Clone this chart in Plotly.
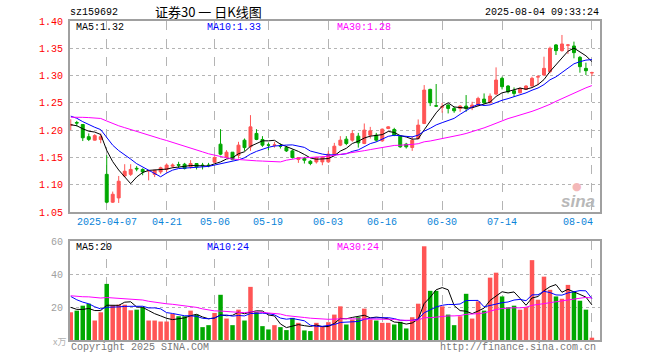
import pandas as pd
import plotly.graph_objects as go

# ---- data ----
holidays = ["2025-04-04", "2025-05-01", "2025-05-02", "2025-05-05", "2025-06-02"]
dates = [d.strftime("%Y-%m-%d") for d in pd.bdate_range("2025-03-27", "2025-08-04")
         if d.strftime("%Y-%m-%d") not in holidays]

opens = [1.209, 1.214, 1.2104, 1.188, 1.1816, 1.183, 1.119, 1.068, 1.0758, 1.116,
         1.119, 1.130, 1.128, 1.125, 1.119, 1.1235, 1.128, 1.134, 1.137, 1.1376,
         1.1327, 1.1388, 1.136, 1.136, 1.1412, 1.1743, 1.150, 1.1596, 1.154, 1.1816,
         1.1694, 1.194, 1.1829, 1.173, 1.172, 1.171, 1.1682, 1.162, 1.1461, 1.148,
         1.143, 1.1418, 1.1418, 1.1419, 1.156, 1.1725, 1.1835, 1.1816, 1.189, 1.1755,
         1.1908, 1.1908, 1.1804, 1.203, 1.2012, 1.189, 1.1743, 1.1682, 1.1847, 1.2122,
         1.2747, 1.2447, 1.2422, 1.2459, 1.2398, 1.2398, 1.2441, 1.2416, 1.2459, 1.2569,
         1.2502, 1.2661, 1.2949, 1.2808, 1.2722, 1.2685, 1.2747, 1.2808, 1.2973, 1.301,
         1.3071, 1.3561, 1.3457, 1.3555, 1.3542, 1.3334, 1.3132, 1.3049]
highs = [1.220, 1.217, 1.211, 1.194, 1.1927, 1.194, 1.154, 1.0874, 1.116, 1.1376,
         1.1376, 1.134, 1.130, 1.127, 1.1265, 1.133, 1.139, 1.139, 1.142, 1.140,
         1.145, 1.1388, 1.140, 1.140, 1.152, 1.2018, 1.1633, 1.1596, 1.1786, 1.1847,
         1.2275, 1.2018, 1.189, 1.1774, 1.1786, 1.1755, 1.1706, 1.1645, 1.150, 1.151,
         1.145, 1.151, 1.152, 1.162, 1.1767, 1.189, 1.189, 1.200, 1.195, 1.2122,
         1.206, 1.195, 1.203, 1.2073, 1.2043, 1.1908, 1.1767, 1.189, 1.2196, 1.2826,
         1.2759, 1.2845, 1.250, 1.2477, 1.2428, 1.2459, 1.2643, 1.252, 1.2612, 1.2673,
         1.2673, 1.315, 1.2979, 1.2826, 1.2783, 1.2783, 1.2826, 1.2979, 1.301, 1.3346,
         1.353, 1.3579, 1.3744, 1.3579, 1.3622, 1.3359, 1.3236, 1.3071]
lows = [1.200, 1.207, 1.180, 1.180, 1.181, 1.176, 1.066, 1.0666, 1.0666, 1.114,
        1.116, 1.1247, 1.1174, 1.108, 1.114, 1.120, 1.1235, 1.131, 1.131, 1.128,
        1.1296, 1.128, 1.128, 1.132, 1.140, 1.154, 1.1486, 1.1449, 1.148, 1.162,
        1.162, 1.1816, 1.1694, 1.1633, 1.168, 1.1663, 1.160, 1.148, 1.140, 1.1388,
        1.1357, 1.1388, 1.1357, 1.140, 1.154, 1.1706, 1.1725, 1.1786, 1.168, 1.1743,
        1.1847, 1.1786, 1.1786, 1.2018, 1.189, 1.1676, 1.1663, 1.162, 1.1829, 1.211,
        1.2441, 1.2428, 1.2318, 1.2306, 1.2318, 1.2337, 1.2337, 1.2367, 1.2441, 1.2477,
        1.249, 1.2643, 1.2747, 1.2673, 1.2612, 1.2673, 1.2734, 1.2796, 1.2826, 1.2991,
        1.304, 1.3377, 1.3438, 1.3395, 1.3316, 1.3053, 1.301, 1.2991]
closes = [1.2104, 1.213, 1.186, 1.183, 1.190, 1.188, 1.068, 1.0825, 1.1064, 1.1247,
          1.128, 1.129, 1.1235, 1.126, 1.1265, 1.131, 1.136, 1.136, 1.1357, 1.1296,
          1.1388, 1.1327, 1.135, 1.135, 1.150, 1.156, 1.1596, 1.146, 1.1725, 1.168,
          1.206, 1.183, 1.1725, 1.1725, 1.173, 1.1706, 1.162, 1.1498, 1.1498, 1.1449,
          1.1388, 1.150, 1.150, 1.156, 1.1706, 1.1816, 1.1755, 1.1939, 1.1767, 1.200,
          1.1988, 1.1816, 1.2018, 1.206, 1.1908, 1.1694, 1.1694, 1.1816, 1.2092, 1.2734,
          1.2502, 1.2441, 1.2428, 1.2398, 1.2355, 1.2441, 1.2398, 1.2459, 1.2581, 1.2502,
          1.2624, 1.2918, 1.2796, 1.2704, 1.2673, 1.2765, 1.2808, 1.2949, 1.2979, 1.3132,
          1.350, 1.3457, 1.3579, 1.3561, 1.342, 1.3163, 1.3089, 1.3053]
volumes = [16.8, 17.8, 20.8, 22, 11.8, 16.8, 34, 21, 21.4, 21.4,
           18, 18.4, 19.8, 11.8, 11.8, 11.2, 11.2, 15.8, 14.4, 14.4,
           17.8, 15.4, 7.8, 9, 16.4, 27.4, 13, 9, 18.4, 11.8,
           32.2, 17, 8.4, 6.4, 9, 7.8, 6, 13.4, 10.4, 5.8,
           5.4, 10.4, 8.4, 10.8, 15.4, 20.4, 9.4, 12.4, 13.8, 19,
           12.4, 11.8, 10.4, 10.4, 9.4, 11, 7, 13.8, 22, 56.8,
           29.8, 29.8, 20.4, 15.4, 9, 14.4, 28, 13, 23.4, 17.8,
           37.8, 40.8, 26.4, 19.8, 20.8, 18.4, 19.8, 48.4, 24.4, 38.4,
           30.4, 26.4, 25, 33.4, 29.4, 23.8, 18.4, 1.4]
# estimated sessions before the visible window (only feed the moving averages)
prior_closes = [1.200, 1.205, 1.198, 1.210, 1.215, 1.208, 1.220, 1.232, 1.228, 1.235,
                1.226, 1.230, 1.238, 1.225, 1.222, 1.230, 1.235, 1.228, 1.224, 1.245,
                1.252, 1.248, 1.240, 1.236, 1.231, 1.222, 1.214, 1.205, 1.198]
prior_volumes = [30, 26, 24, 28, 22, 25, 27, 31, 29, 26, 24, 28, 35, 30, 27, 23, 25, 29, 26, 25,
                 38, 35, 32, 30, 30, 24, 21, 19, 18.2]

tick_dates = ["2025-04-07", "2025-04-21", "2025-05-06", "2025-05-19", "2025-06-03",
              "2025-06-16", "2025-06-30", "2025-07-14", "2025-08-04"]
tick_labels = ["2025-04-07", "04-21", "05-06", "05-19", "06-03", "06-16", "06-30", "07-14", "08-04"]
price_ticks = [1.05, 1.10, 1.15, 1.20, 1.25, 1.30, 1.35, 1.40]
vol_ticks = [20, 40, 60]
ma_periods = [5, 10, 30]
ma_labels_price = ["MA5:1.32", "MA10:1.33", "MA30:1.28"]
ma_labels_vol = ["MA5:20", "MA10:24", "MA30:24"]

# ---- styling ----
RED, GREEN = "#ff5555", "#00a800"
MA_COLORS = ["#000000", "#0000ff", "#ff00ff"]
MONO = "Liberation Mono, DejaVu Sans Mono, monospace"
W, H = 660, 360
L, R = 70, 60
PW = W - L - R
n = len(dates)

full_c = pd.Series(prior_closes + closes)
full_v = pd.Series(prior_volumes + volumes)
k = len(prior_closes)

fig = go.Figure()
fig.add_trace(go.Candlestick(
    x=dates, open=opens, high=highs, low=lows, close=closes,
    increasing=dict(line=dict(color=RED, width=1), fillcolor=RED),
    decreasing=dict(line=dict(color=GREEN, width=1), fillcolor=GREEN),
    whiskerwidth=0, xaxis="x", yaxis="y", hoverinfo="skip"))
for p, col in zip(ma_periods, MA_COLORS):
    fig.add_trace(go.Scatter(x=dates, y=full_c.rolling(p).mean().iloc[k:].tolist(),
                             mode="lines", line=dict(color=col, width=1),
                             xaxis="x", yaxis="y", hoverinfo="skip"))
bar_colors = [RED if c >= o else GREEN for o, c in zip(opens, closes)]
fig.add_trace(go.Bar(x=dates, y=volumes, marker=dict(color=bar_colors, line=dict(width=0)),
                     width=0.75, xaxis="x2", yaxis="y2", hoverinfo="skip"))
for p, col in zip(ma_periods, MA_COLORS):
    fig.add_trace(go.Scatter(x=dates, y=full_v.rolling(p).mean().iloc[k:].tolist(),
                             mode="lines", line=dict(color=col, width=1),
                             xaxis="x2", yaxis="y2", hoverinfo="skip"))

xr = [-0.13, n + 0.35]
frame = dict(showline=True, mirror=True, linecolor="#a0a0a0", linewidth=2, zeroline=False,
             automargin=False)
xcommon = dict(type="category", range=xr, tickvals=tick_dates, showticklabels=False,
               showgrid=True, gridcolor="#b4b4b4", griddash="dash", gridwidth=1,
               rangeslider=dict(visible=False), ticks="", **frame)


def py(px):
    return 1 - px / H


def pxx(px):
    return (px - L) / PW


fig.update_layout(
    width=W, height=H, margin=dict(l=L, r=R, t=0, b=0, autoexpand=False),
    paper_bgcolor="white", plot_bgcolor="white", showlegend=False, bargap=0.25,
    hovermode=False,
    xaxis=dict(domain=[0, 1], anchor="y", **xcommon),
    xaxis2=dict(domain=[0, 1], anchor="y2", matches="x", **xcommon),
    yaxis=dict(domain=[py(212), py(21)], range=[1.05, 1.40], tickvals=price_ticks,
               ticktext=[f"{v:.2f}" for v in price_ticks], tickfont=dict(family=MONO, size=10, color="#ff0000"),
               showgrid=True, gridcolor="#b4b4b4", griddash="dot", ticks="", ticklabelstandoff=3, **frame),
    yaxis2=dict(domain=[py(340), py(241)], range=[0, 60], tickvals=vol_ticks,
                tickfont=dict(family=MONO, size=10, color="#a0a0a0"),
                showgrid=True, gridcolor="#b4b4b4", griddash="dot", ticks="", ticklabelstandoff=3, **frame),
)

ann = []


def text(x, y, s, color="#000000", size=10, xanchor="left", family=MONO):
    ann.append(dict(x=pxx(x), y=py(y), xref="paper", yref="paper", text=s, showarrow=False,
                    xanchor=xanchor, yanchor="middle", font=dict(family=family, size=size, color=color)))


text(68, 13, "sz159692")
text(208, 12, "证券30 一 日K线图", size=13, xanchor="center",
     family="Noto Sans CJK SC, Noto Sans, sans-serif")
text(601, 13, "2025-08-04 09:33:24", xanchor="right")
for lab, col, x in zip(ma_labels_price, MA_COLORS, [74, 205, 335]):
    text(x, 28, lab, color=col)
for lab, col, x in zip(ma_labels_vol, MA_COLORS, [74, 205, 335]):
    text(x, 247, lab, color=col)
# date labels under the candle chart
for d, lab in zip(tick_dates, tick_labels):
    i = dates.index(d)
    xpx = L + (i - xr[0]) / (xr[1] - xr[0]) * PW
    if lab == tick_labels[-1]:
        text(xpx + 3, 222, lab, color="#0a84d8", xanchor="right")
    else:
        text(xpx, 222, lab, color="#0a84d8", xanchor="center")
text(69, 347, "Copyright 2025 SINA.COM", color="#777777")
text(598, 347, "http://finance.sina.com.cn", color="#777777", xanchor="right")
text(68, 341, "x万", color="#b0b0b0", size=9, xanchor="right",
     family="Noto Sans CJK SC, sans-serif")
text(578, 201, "<b><i>sina</i></b>", color="#b8b8b8", size=17, xanchor="center",
     family="Liberation Sans, sans-serif")
text(577, 186, "●", color="#f4b8b8", size=11, xanchor="center", family="DejaVu Sans")
fig.update_layout(annotations=ann)

fig.write_html("out.html", config={"displayModeBar": False, "staticPlot": True},
               post_script="document.body.style.margin='0';")
